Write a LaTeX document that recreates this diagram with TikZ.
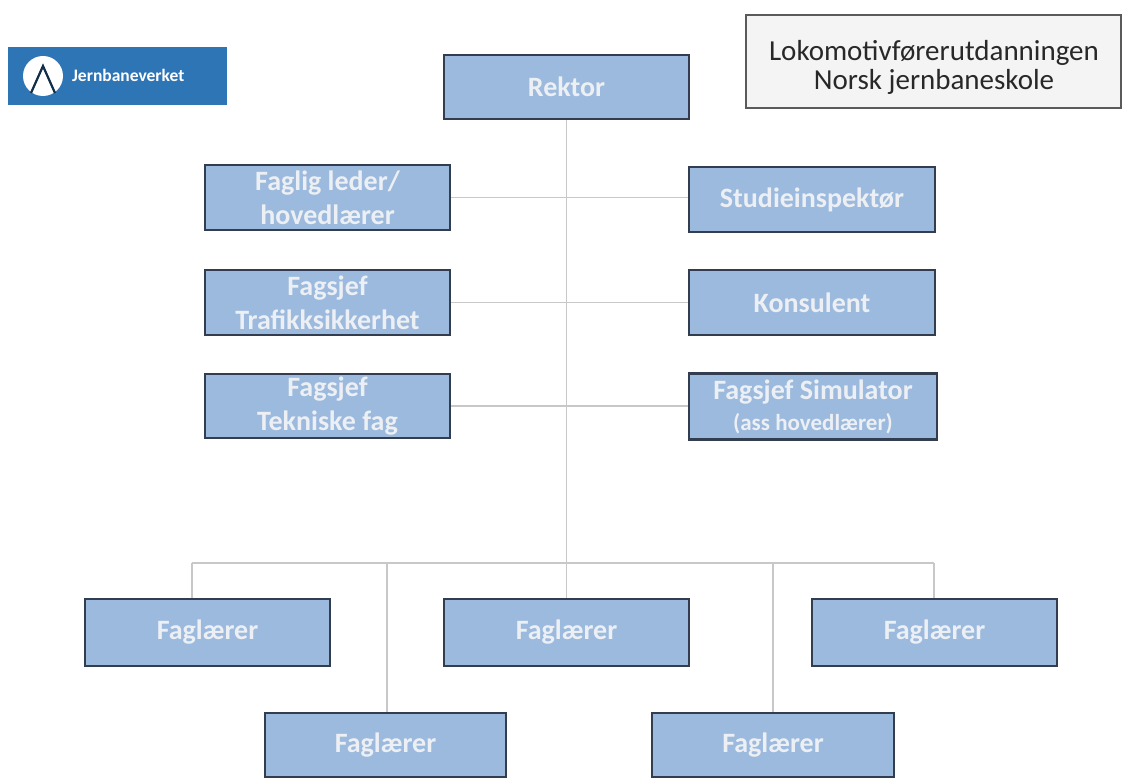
\documentclass[tikz,border=0pt]{standalone}
\usepackage{fontspec}
\setmainfont{Carlito}
\definecolor{boxfill}{RGB}{156,186,222}
\definecolor{boxborder}{RGB}{50,62,80}
\definecolor{boxtext}{RGB}{236,239,243}
\definecolor{linkgray}{RGB}{200,200,200}
\definecolor{logoblue}{RGB}{46,117,182}
\definecolor{titlefill}{RGB}{244,244,244}
\definecolor{titleborder}{RGB}{90,90,90}
\definecolor{titletextc}{RGB}{40,40,40}
\tikzset{
  orgbox/.style={draw=boxborder, line width=2.5pt, fill=boxfill, text=boxtext,
    font=\bfseries\fontsize{28}{34}\selectfont, align=center, inner sep=0pt,
    minimum width=245pt, minimum height=65pt},
  link/.style={draw=linkgray, line width=1.5pt},
  titlebox/.style={draw=titleborder, line width=2pt, fill=titlefill,
    minimum width=375pt, minimum height=93pt, inner sep=0pt},
  titletext/.style={text=titletextc, font=\fontsize{29}{29}\selectfont, align=center, inner sep=0pt},
}
\begin{document}
\begin{tikzpicture}[x=1pt,y=-1pt]
\useasboundingbox[fill=white] (0,0) rectangle (1124,778);

% logo
\node[fill=logoblue, minimum width=219pt, minimum height=58pt, inner sep=0pt] (logo) at (117.5,76) {};
\fill[white] (43,76) circle (20pt);
\draw[logoblue!40!black, line width=2.2pt] (31,93) -- (43,66) -- (55,93);
\node[text=white, font=\bfseries\fontsize{17.5}{17.5}\selectfont, anchor=west, inner sep=0pt] (logotext) at (72,75) {Jernbaneverket};

% title
\node[titlebox] (title) at (933.5,61.5) {};
\node[titletext] (titlelabel) at (934,67) {Lokomotivførerutdanningen\\Norsk jernbaneskole};

% boxes
\node[orgbox, minimum height=64pt] (rektor) at (566.5,87) {Rektor};
\node[orgbox] (fl) at (327.5,197.5) {Faglig leder/\\hovedlærer};
\node[orgbox, minimum width=246pt] (si) at (812,199.5) {Studieinspektør};
\node[orgbox] (ft) at (327.5,302.5) {Fagsjef\\Trafikksikkerhet};
\node[orgbox, minimum width=246pt] (ko) at (812,302.5) {Konsulent};
\node[orgbox, minimum height=64pt] (fte) at (327.5,406) {Fagsjef\\Tekniske fag};
\node[orgbox, minimum width=248pt, minimum height=66pt] (fs) at (813,406.5) {Fagsjef Simulator\\[-3pt]{\fontsize{23}{24}\selectfont (ass hovedlærer)}};
\node[orgbox, minimum height=67pt] (f1) at (207.5,632.5) {Faglærer};
\node[orgbox, minimum height=67pt] (f2) at (566.5,632.5) {Faglærer};
\node[orgbox, minimum height=67pt] (f3) at (934.5,632.5) {Faglærer};
\node[orgbox, minimum width=241pt, minimum height=64pt] (f4) at (385.5,745) {Faglærer};
\node[orgbox, minimum width=242pt, minimum height=64pt] (f5) at (773,745) {Faglærer};

% connectors
\coordinate (bus) at (566.5,563);
\coordinate (busl) at (192,563);
\coordinate (busr) at (934,563);
\coordinate (b4) at (387,563);
\coordinate (b5) at (773,563);
\draw[link] (rektor.south) -- (bus);
\draw[link] (busl) -- (busr);
\draw[link] (fl.east) -- (fl.east -| si.west);
\draw[link] (ft.east) -- (ft.east -| ko.west);
\draw[link] (fte.east) -- (fte.east -| fs.west);
\draw[link] (busl) -- (busl |- f1.north);
\draw[link] (bus) -- (f2.north);
\draw[link] (busr) -- (busr |- f3.north);
\draw[link] (b4) -- (b4 |- f4.north);
\draw[link] (b5) -- (b5 |- f5.north);
\end{tikzpicture}
\end{document}
